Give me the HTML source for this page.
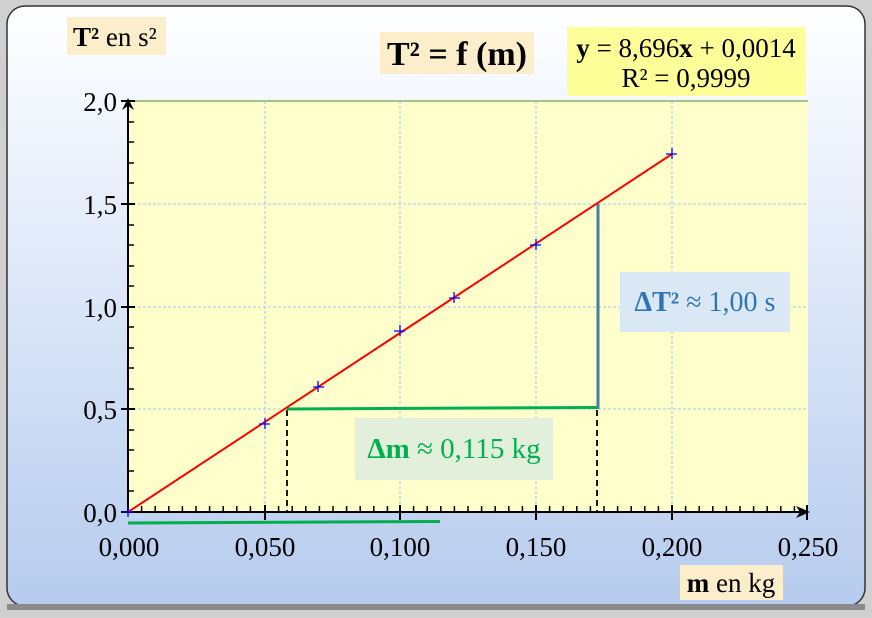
<!DOCTYPE html>
<html><head><meta charset="utf-8"><style>
body{margin:0;width:872px;height:618px;background:#c8c8c8;overflow:hidden}
.lbl{font-family:"Liberation Serif",serif;}
</style></head><body>
<svg width="872" height="618" xmlns="http://www.w3.org/2000/svg" style="position:absolute;left:0;top:0">
<defs>
<linearGradient id="bg" x1="0" y1="0" x2="0" y2="1">
<stop offset="0" stop-color="#ffffff"/><stop offset="0.15" stop-color="#f4f8fe"/><stop offset="1" stop-color="#b6cbee"/>
</linearGradient>
</defs>
<rect x="0" y="0" width="872" height="618" fill="#d0d0d0"/>
<rect x="7" y="6" width="858" height="600" rx="18" fill="url(#bg)" stroke="#333" stroke-width="1.5"/>
<rect x="7" y="604" width="858" height="6" fill="#8a8a8a"/>
<rect x="128" y="101" width="680" height="411" fill="#ffffcc"/>
<line x1="128" y1="101" x2="808" y2="101" stroke="#4a8a2a" stroke-width="1"/>
<g stroke="#9ecbf0" stroke-width="1" stroke-dasharray="3,2">
<line x1="265" y1="101" x2="265" y2="512"/><line x1="400" y1="101" x2="400" y2="512"/>
<line x1="536" y1="101" x2="536" y2="512"/><line x1="672" y1="101" x2="672" y2="512"/>
<line x1="128" y1="204" x2="808" y2="204"/><line x1="128" y1="307" x2="808" y2="307"/>
<line x1="128" y1="409" x2="808" y2="409"/>
</g>
<g stroke="#000" stroke-width="2">
<line x1="128" y1="512" x2="128" y2="100"/>
<line x1="128" y1="512" x2="808" y2="512"/>
<line x1="121" y1="101" x2="135" y2="101"/>
<line x1="121" y1="204" x2="135" y2="204"/><line x1="121" y1="307" x2="135" y2="307"/><line x1="121" y1="409" x2="135" y2="409"/><line x1="121" y1="512" x2="128" y2="512"/>
<line x1="265" y1="505" x2="265" y2="520"/><line x1="400" y1="505" x2="400" y2="520"/><line x1="536" y1="505" x2="536" y2="520"/><line x1="672" y1="505" x2="672" y2="520"/><line x1="807" y1="505" x2="807" y2="520"/>
</g>
<path d="M122,110 L128,98 L134,110 L128,106 Z" fill="#000"/>
<path d="M796,506 L810,512 L796,518 L800,512 Z" fill="#000"/>
<g stroke="#000" stroke-width="1.5">
<path d="M128,122h6M128,142h6M128,163h6M128,183h6M128,225h6M128,245h6M128,266h6M128,286h6M128,327h6M128,348h6M128,368h6M128,389h6M128,430h6M128,450h6M128,471h6M128,491h6"/>
<path d="M141.6,512v-6M155.2,512v-6M168.8,512v-6M182.4,512v-6M196,512v-6M209.6,512v-6M223.2,512v-6M236.8,512v-6M250.4,512v-6M278.6,512v-6M292.2,512v-6M305.8,512v-6M319.4,512v-6M333,512v-6M346.6,512v-6M360.2,512v-6M373.8,512v-6M387.4,512v-6M413.6,512v-6M427.2,512v-6M440.8,512v-6M454.4,512v-6M468,512v-6M481.6,512v-6M495.2,512v-6M508.8,512v-6M522.4,512v-6M549.6,512v-6M563.2,512v-6M576.8,512v-6M590.4,512v-6M604,512v-6M617.6,512v-6M631.2,512v-6M644.8,512v-6M658.4,512v-6M685.6,512v-6M699.2,512v-6M712.8,512v-6M726.4,512v-6M740,512v-6M753.6,512v-6M767.2,512v-6M780.8,512v-6M794.4,512v-6"/>
</g>
<g stroke="#000" stroke-width="1.8" stroke-dasharray="6,4">
<line x1="287" y1="410" x2="287" y2="512"/><line x1="597" y1="410" x2="597" y2="512"/>
</g>
<line x1="287" y1="409" x2="598" y2="407.5" stroke="#00b050" stroke-width="3"/>
<line x1="598" y1="204" x2="598" y2="409" stroke="#4a7ea8" stroke-width="3"/>
<line x1="128" y1="523" x2="440" y2="521.5" stroke="#00b050" stroke-width="3"/>
<line x1="128" y1="512" x2="672" y2="154" stroke="#ff0000" stroke-width="2"/>
<g stroke="#0000ff" stroke-width="1.3">
<path d="M123,512h10M128,507v10"/>
<path d="M259,424h11M265,418v11"/>
<path d="M313,387h11M318,381v11"/>
<path d="M394,331h11M400,325v11"/>
<path d="M449,298h11M454,292v11"/>
<path d="M530,245h11M536,239v11"/>
<path d="M666,154h11M672,148v11"/>
</g>
<g class="lbl" font-size="27" fill="#000" text-anchor="end">
<text x="117" y="111">2,0</text><text x="117" y="214">1,5</text><text x="117" y="317">1,0</text><text x="117" y="419">0,5</text><text x="117" y="522">0,0</text>
</g>
<g class="lbl" font-size="27" fill="#000" text-anchor="middle">
<text x="129" y="556">0,000</text><text x="265" y="556">0,050</text><text x="400" y="556">0,100</text><text x="536" y="556">0,150</text><text x="672" y="556">0,200</text><text x="808" y="556">0,250</text>
</g>
<rect x="67" y="17" width="99" height="38" fill="#fdeecb"/>
<text class="lbl" x="73" y="46" font-size="27"><tspan font-weight="bold">T²</tspan> en s²</text>
<rect x="380" y="32" width="154" height="42" fill="#fdeecb"/>
<text class="lbl" x="457" y="65" font-size="34" font-weight="bold" text-anchor="middle">T² = f (m)</text>
<rect x="567" y="27" width="238" height="69" fill="#ffff99"/>
<text class="lbl" x="686" y="57" font-size="27" text-anchor="middle"><tspan font-weight="bold">y</tspan> = 8,696<tspan font-weight="bold">x</tspan> + 0,0014</text>
<text class="lbl" x="686" y="87" font-size="27" text-anchor="middle">R² = 0,9999</text>
<rect x="620" y="272" width="170" height="60" fill="#dae8f5"/>
<text class="lbl" x="705" y="311" font-size="28" fill="#2e75b6" text-anchor="middle"><tspan font-weight="bold">ΔT²</tspan> ≈ 1,00 s</text>
<rect x="355" y="418" width="198" height="62" fill="#e2efda"/>
<text class="lbl" x="454" y="458" font-size="29" fill="#00b050" text-anchor="middle"><tspan font-weight="bold">Δm</tspan> ≈ 0,115 kg</text>
<rect x="680" y="565" width="103" height="35" fill="#fdeecb"/>
<text class="lbl" x="731" y="592" font-size="27" text-anchor="middle"><tspan font-weight="bold">m</tspan> en kg</text>
</svg>
</body></html>
